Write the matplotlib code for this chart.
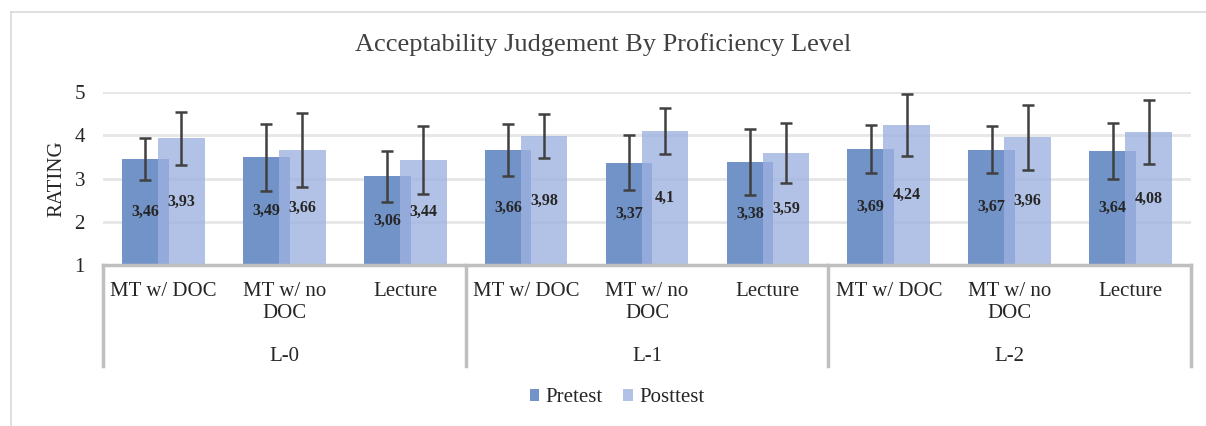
import matplotlib.pyplot as plt
import matplotlib.transforms as mtransforms
import numpy as np

# Datos del grafico
niveles = ["L-0", "L-1", "L-2"]
metodos = ["MT w/ DOC", "MT w/ no\nDOC", "Lecture"]
pretest = [3.46, 3.49, 3.06, 3.66, 3.37, 3.38, 3.69, 3.67, 3.64]
posttest = [3.93, 3.66, 3.44, 3.98, 4.10, 3.59, 4.24, 3.96, 4.08]
pretest_err = [0.48, 0.78, 0.59, 0.61, 0.63, 0.77, 0.55, 0.55, 0.65]
posttest_err = [0.62, 0.85, 0.79, 0.51, 0.53, 0.69, 0.72, 0.75, 0.75]

plt.rcParams['font.family'] = ['Liberation Serif', 'DejaVu Serif']

fig = plt.figure(figsize=(12.06, 4.26), dpi=100)
ax = fig.add_axes([103 / 1206, 1 - 265 / 426, (1191 - 103) / 1206, (265 - 92.3) / 426])

x = np.arange(len(pretest))
ancho = 0.386
desp = 0.149
col_pre = "#7293C7"
col_post = "#9DB1E0"

ax.bar(x - desp, pretest, ancho, color=col_pre, label="Pretest", zorder=2)
ax.bar(x + desp, posttest, ancho, color=col_post, alpha=0.78, label="Posttest", zorder=3)
ax.errorbar(x - desp, pretest, yerr=pretest_err, fmt="none", ecolor="#404040",
            elinewidth=1.8, capsize=4.3, capthick=1.8, zorder=4)
ax.errorbar(x + desp, posttest, yerr=posttest_err, fmt="none", ecolor="#404040",
            elinewidth=1.8, capsize=4.3, capthick=1.8, zorder=4)

# etiquetas de datos en el centro de cada barra
def etiqueta(v):
    return f"{v:g}".replace(".", ",")

for i in range(len(x)):
    ax.text(x[i] - desp, (1 + pretest[i]) / 2, etiqueta(pretest[i]), ha="center", va="center",
            fontsize=11.5, fontweight="bold", color="#262626", zorder=5)
    ax.text(x[i] + desp, (1 + posttest[i]) / 2, etiqueta(posttest[i]), ha="center", va="center",
            fontsize=11.5, fontweight="bold", color="#262626", zorder=5)

ax.set_ylim(1, 5)
ax.set_xlim(-0.5, len(x) - 0.5)
ax.set_yticks([1, 2, 3, 4, 5])
ax.tick_params(axis="y", length=0, labelsize=15, pad=13, colors="#262626")
ax.yaxis.grid(True, color="#E6E6E6", linewidth=2, zorder=0)
ax.set_axisbelow(True)
for s in ["top", "right", "left"]:
    ax.spines[s].set_visible(False)
ax.spines["bottom"].set_color("#BFBFBF")
ax.spines["bottom"].set_linewidth(2.5)
ax.spines["bottom"].set_zorder(6)

ax.set_xticks(x)
ax.set_xticklabels(metodos * len(niveles), fontsize=15, linespacing=1.25, color="#262626")
ax.tick_params(axis="x", length=0, pad=12)

ax.set_ylabel("RATING", fontsize=15, color="#262626", labelpad=6)

# separadores y etiquetas de grupo
trans = mtransforms.blended_transform_factory(ax.transData, ax.transAxes)
for sep in [-0.5, 2.5, 5.5, 8.5]:
    ax.plot([sep, sep], [0, -0.585], transform=trans, color="#BFBFBF", linewidth=2.5, clip_on=False)
for j, nivel in enumerate(niveles):
    ax.text(3 * j + 1, -0.53, nivel, transform=trans, ha="center", va="center",
            fontsize=15, color="#262626")

fig.text(0.5, 1 - 45 / 426, "Acceptability Judgement By Proficiency Level", ha="center", va="center",
         fontsize=19, color="#404040")

fig.legend(loc="center", bbox_to_anchor=(617 / 1206, 1 - 398 / 426), ncol=2, frameon=False,
           fontsize=15, handlelength=0.45, handleheight=0.45, handletextpad=0.3, columnspacing=1.0,
           labelcolor="#262626")

# borde del area del grafico
fig.add_artist(plt.Line2D([11 / 1206, 11 / 1206], [0, 1 - 12 / 426], transform=fig.transFigure,
                          color="#D9D9D9", linewidth=1.2))
fig.add_artist(plt.Line2D([11 / 1206, 1], [1 - 12 / 426, 1 - 12 / 426], transform=fig.transFigure,
                          color="#D9D9D9", linewidth=1.2))

plt.savefig("out.png", dpi=100)
plt.close()
